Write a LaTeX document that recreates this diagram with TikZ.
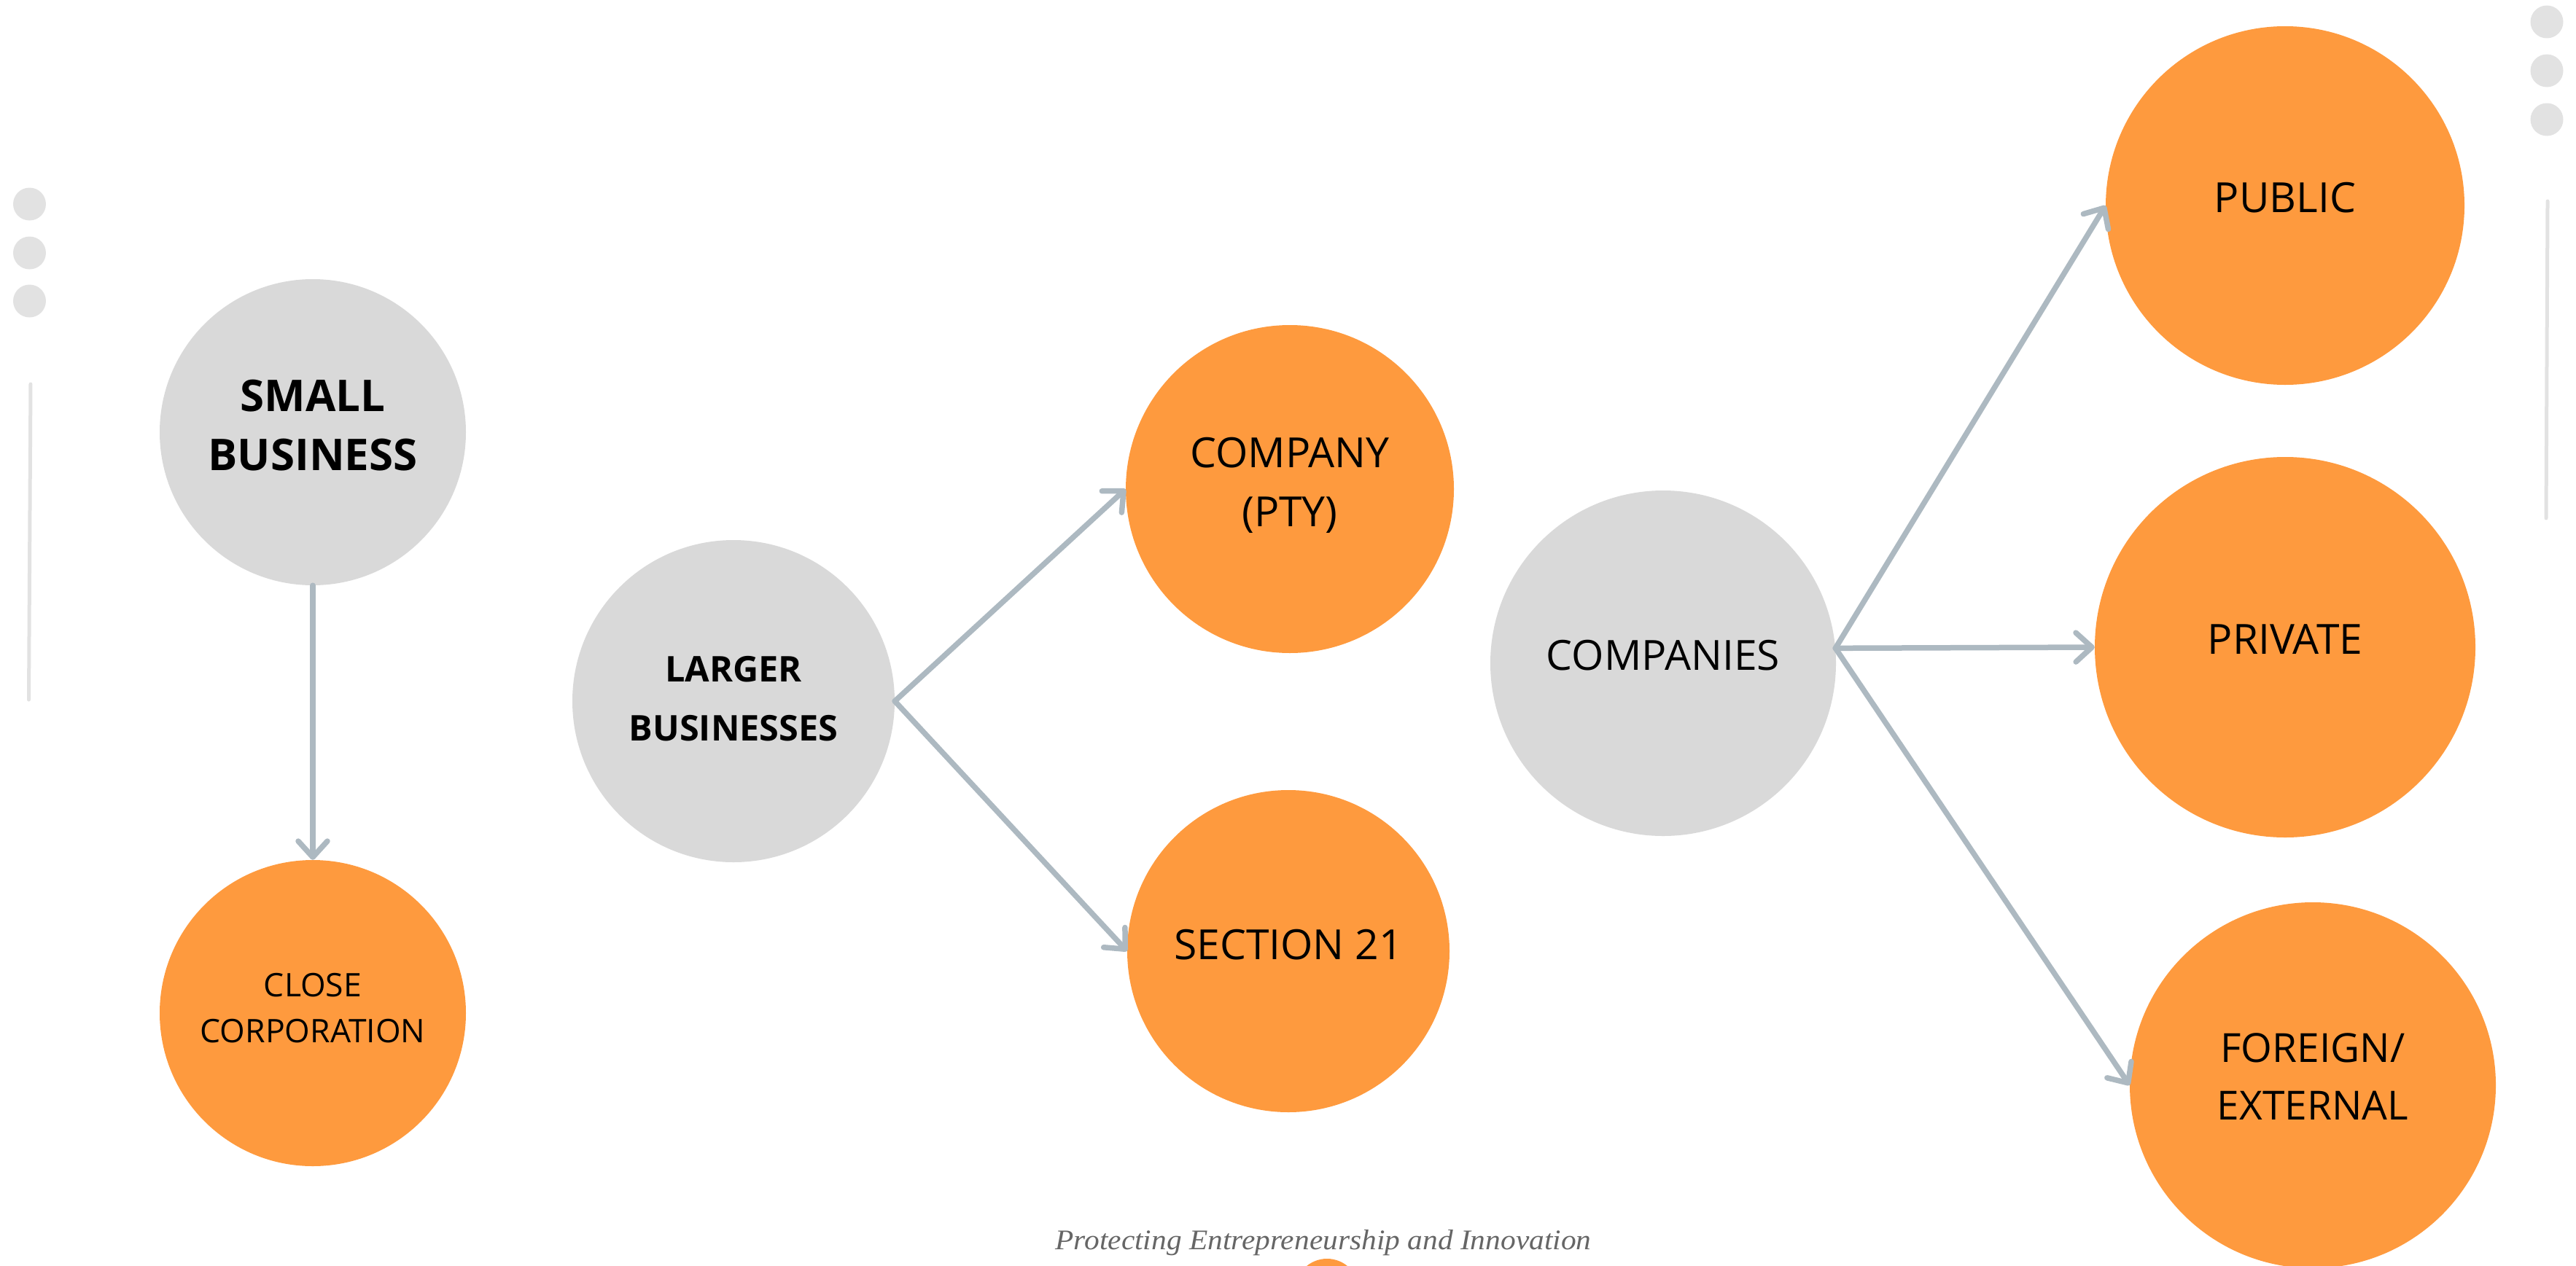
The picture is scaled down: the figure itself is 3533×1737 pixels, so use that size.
\documentclass[tikz,border=0pt]{standalone}
\usepackage{fontspec}
\setmainfont{Open Sans}
\newfontfamily\taglinefont{Liberation Serif}
\usetikzlibrary{arrows.meta}

\definecolor{bizorange}{HTML}{FE9A3E}
\definecolor{bizgrey}{HTML}{D9D9D9}
\definecolor{linkgrey}{HTML}{ADB9C1}
\definecolor{decogrey}{HTML}{E2E2E2}
\definecolor{taglinegrey}{HTML}{666666}

\begin{document}
\begin{tikzpicture}[x=1pt, y=-1pt,
  orangebubble/.style={circle, fill=bizorange, inner sep=0pt, minimum size=#1},
  greybubble/.style={circle, fill=bizgrey, inner sep=0pt, minimum size=#1},
  caption/.style={align=center, text=black, inner sep=0pt, font=\fontsize{57}{81}\selectfont},
  boldcaption/.style={caption, font=\fontsize{#1}{81}\selectfont\bfseries},
  link/.style={draw=linkgrey, line width=7.5pt, line cap=round,
    -{Straight Barb[length=22pt, width=40pt, round]}},
  dot/.style={circle, fill=decogrey, inner sep=0pt, minimum size=45pt},
  rail/.style={draw=decogrey, line width=5pt, line cap=round}
]
\useasboundingbox (0,0) rectangle (3533,1737);

% side ornaments
\node[dot] (ld1) at (40.5,280) {};
\node[dot] (ld2) at (40.5,347) {};
\node[dot] (ld3) at (40.5,413) {};
\coordinate (lr1) at (42,527);
\coordinate (lr2) at (39.5,960);
\draw[rail] (lr1) -- (lr2);
\node[dot] (rd1) at (3493,30) {};
\node[dot] (rd2) at (3493,97) {};
\node[dot] (rd3) at (3493,164) {};
\coordinate (rr1) at (3494,276);
\coordinate (rr2) at (3492,711);
\draw[rail] (rr1) -- (rr2);

% small business branch
\node[greybubble=420pt,
  label={[boldcaption=60, yshift=9pt, name=sb-t]center:{SMALL\\BUSINESS}}]
  (sb) at (429,593) {};
\node[orangebubble=420pt,
  label={[caption, font=\fontsize{44.5}{63}\selectfont, yshift=7pt, name=cc-t]center:{CLOSE\\CORPORATION}}]
  (cc) at (429,1390) {};

% larger businesses branch
\node[greybubble=442pt,
  label={[boldcaption=48.6, yshift=3pt, name=lb-t]center:{LARGER\\BUSINESSES}}]
  (lb) at (1006,962) {};
\node[orangebubble=450pt,
  label={[caption, yshift=5pt, name=pty-t]center:{COMPANY\\(PTY)}}]
  (pty) at (1769,671) {};
\node[orangebubble=442pt,
  label={[caption, yshift=9pt, name=s21-t]center:{SECTION 21}}]
  (s21) at (1767,1305) {};

% companies branch
\node[greybubble=474pt,
  label={[caption, yshift=11pt, name=co-t]center:{COMPANIES}}]
  (co) at (2281,910) {};
\node[orangebubble=492pt,
  label={[caption, yshift=11pt, name=pub-t]center:{PUBLIC}}]
  (pub) at (3134,282) {};
\node[orangebubble=522pt,
  label={[caption, yshift=11pt, name=pri-t]center:{PRIVATE}}]
  (pri) at (3134,888) {};
\node[orangebubble=502pt,
  label={[caption, font=\fontsize{55}{79}\selectfont, yshift=12pt, name=for-t]center:{FOREIGN/\\EXTERNAL}}]
  (for) at (3172,1489) {};

% connectors
\draw[link] (sb.south) -- (cc.north);
\draw[link] (lb.east) -- (pty.west);
\draw[link] (lb.east) -- (s21.west);
\draw[link] (co.5) -- (pub.west);
\draw[link] (co.5) -- (pri.west);
\draw[link] (co.5) -- (for.west);

% footer
\node[anchor=base, inner sep=0pt, text=taglinegrey] (tag) at (1815,1714)
  {\resizebox{735pt}{\height}{\taglinefont\itshape\fontsize{39}{45}\selectfont Protecting Entrepreneurship and Innovation}};
\node[circle, draw=bizorange, line width=10pt, minimum size=78pt, inner sep=0pt] (logo) at (1820,1771) {};
\end{tikzpicture}
\end{document}
